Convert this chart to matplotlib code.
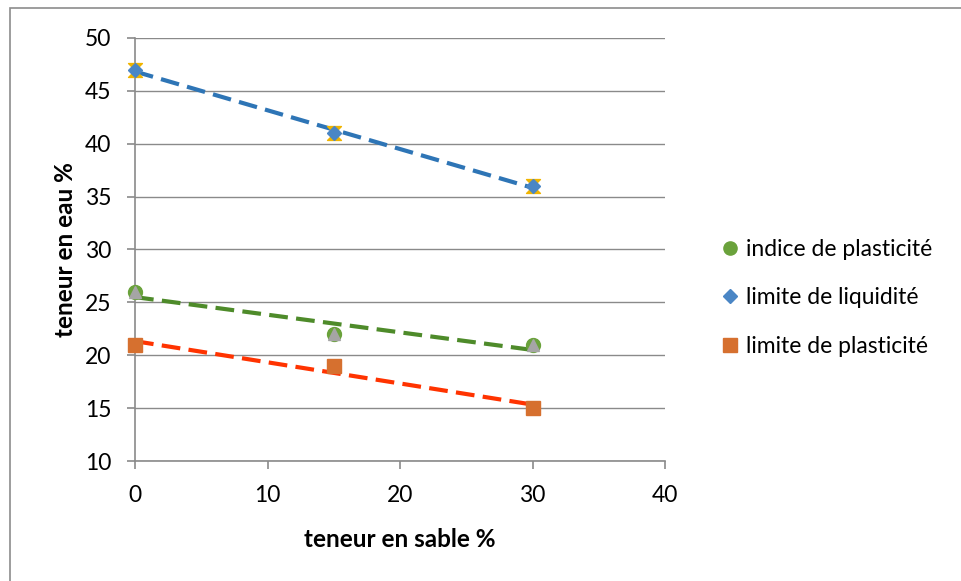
import numpy as np
import matplotlib
matplotlib.use('Agg')
import matplotlib.pyplot as plt
from matplotlib.patches import Rectangle
from matplotlib.path import Path

plt.rcParams['font.family'] = ['Lato', 'DejaVu Sans']

# data
sable = [0, 15, 30]
indice_plasticite = [26, 22, 21]
limite_liquidite = [47, 41, 36]
limite_plasticite = [21, 19, 15]

x_ticks = [0, 10, 20, 30, 40]
y_ticks = [10, 15, 20, 25, 30, 35, 40, 45, 50]

fig = plt.figure(figsize=(9.62, 5.81), dpi=100)
ax = fig.add_axes([135 / 962, 1 - 461 / 581, 530 / 962, 423 / 581])

# outer chart frame (excel chart area)
fig.patches.append(Rectangle((10 / 962, -0.02), 1.0, 0.02 + 1 - 8 / 581,
                             transform=fig.transFigure, fill=False,
                             edgecolor='#8c8c8c', lw=1.2))

grid_c = '#8a8a8a'
ax.set_xlim(0, 40)
ax.set_ylim(10, 50)
ax.set_xticks(x_ticks)
ax.set_yticks(y_ticks)
ax.yaxis.grid(True, color=grid_c, lw=1)
ax.set_axisbelow(True)
for s in ['top', 'right']:
    ax.spines[s].set_visible(False)
for s in ['left', 'bottom']:
    ax.spines[s].set_color(grid_c)
    ax.spines[s].set_linewidth(1.2)
ax.tick_params(axis='both', colors=grid_c, length=6, width=1.2,
               labelsize=16.5, labelcolor='black', pad=11)
ax.set_xlabel('teneur en sable %', fontsize=17.5, fontweight='bold', labelpad=16)
ax.set_ylabel('teneur en eau %', fontsize=17.5, fontweight='bold', labelpad=6)

# trend lines (linear fits)
xs = np.array([0, 30])
trends = [(limite_liquidite, '#2E75B6'),
          (indice_plasticite, '#4E8B2A'),
          (limite_plasticite, '#FF3300')]
for vals, c in trends:
    k, b = np.polyfit(sable, vals, 1)
    ax.plot(xs, k * xs + b, color=c, lw=3, dashes=(4.5, 2), zorder=3,
            solid_capstyle='butt', dash_capstyle='butt')

# hourglass marker for the hidden helper series behind the diamonds
hourglass = Path([(-1, 1), (1, 1), (0, 0), (-1, -1), (1, -1), (0, 0), (-1, 1)],
                 [Path.MOVETO, Path.LINETO, Path.LINETO, Path.LINETO,
                  Path.LINETO, Path.LINETO, Path.CLOSEPOLY])

ax.plot(sable, limite_liquidite, ls='none', marker=hourglass, ms=10,
        color='#F0B400', mec='#F0B400', zorder=4, clip_on=False)
ax.plot(sable, limite_liquidite, ls='none', marker='D', ms=7,
        color='#4A86C5', mec='#4A86C5', zorder=5, clip_on=False,
        label='limite de liquidité')
ax.plot(sable, indice_plasticite, ls='none', marker='o', ms=10,
        color='#6AA23B', mec='#6AA23B', zorder=4, clip_on=False,
        label='indice de plasticité')
ax.plot(sable, indice_plasticite, ls='none', marker='^', ms=8.5,
        color='#A5A5A5', mec='#A5A5A5', zorder=5, clip_on=False)
ax.plot(sable, limite_plasticite, ls='none', marker='s', ms=10,
        color='#D6702F', mec='#D6702F', zorder=5, clip_on=False,
        label='limite de plasticité')

h, l = ax.get_legend_handles_labels()
order = [1, 0, 2]
leg = fig.legend([h[i] for i in order], [l[i] for i in order],
                 loc='upper left', bbox_to_anchor=(712 / 962, 1 - 228 / 581),
                 frameon=False, fontsize=16.5, labelspacing=1.18,
                 handlelength=0.6, handletextpad=0.4, borderpad=0,
                 markerscale=0.95)

fig.savefig('out.png', dpi=100)
